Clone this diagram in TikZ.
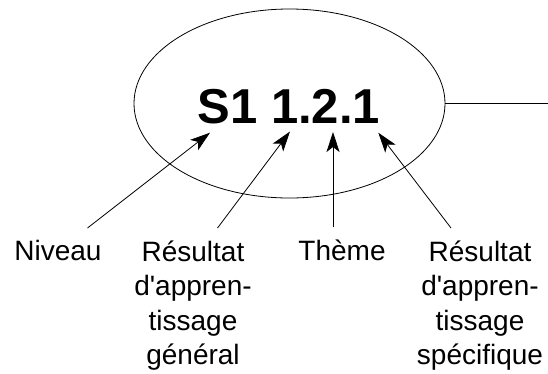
\documentclass[tikz,border=0pt]{standalone}
\usepackage{fontspec}
\setmainfont{Liberation Sans}
\usetikzlibrary{shapes.geometric,arrows.meta}

\begin{document}
\begin{tikzpicture}[x=1pt,y=-1pt]
	\tikzstyle{every node}+=[inner sep=0pt]
	\tikzstyle{lbl}=[font=\fontsize{28}{34.5}\selectfont, align=center, anchor=base]
	\tikzstyle{arr}=[-{Stealth[length=20pt,width=13pt,inset=5pt]}, line width=0.8pt]
	\useasboundingbox (0,0) rectangle (548,373);
	\node [ellipse, draw, line width=0.8pt, minimum width=311pt, minimum height=189pt] (bulle) at (289.5,103.5) {};
	\node [font=\fontsize{49}{49}\selectfont\bfseries, anchor=base] (code) at (288.8,123.3) {S1 1.2.1};
	\coordinate (sortie) at (548,103.5);
	\draw [line width=0.8pt] (bulle.east) -- (sortie);
	% points vises dans le code
	\coordinate (pS) at (210,132.7);
	\coordinate (pR) at (290,131.5);
	\coordinate (pT) at (333,132);
	\coordinate (pP) at (378.3,132.7);
	% legendes (base = derniere ligne)
	\node [lbl] (niveau) at (58,260.5) {Niveau};
	\node [lbl] (general) at (193,364.5) {Résultat\\d\textquotesingle appren-\\tissage\\général};
	\node [lbl] (theme) at (342,260.5) {Thème};
	\node [lbl] (specifique) at (480,364.5) {Résultat\\d\textquotesingle appren-\\tissage\\spécifique};
	\draw [arr] ([xshift=29.5pt,yshift=32.5pt]niveau.base) -- (pS);
	\draw [arr] ([xshift=24.5pt,yshift=136.5pt]general.base) -- (pR);
	\draw [arr] ([xshift=-9pt,yshift=33.5pt]theme.base) -- (pT);
	\draw [arr] ([xshift=-29pt,yshift=136.5pt]specifique.base) -- (pP);
\end{tikzpicture}
\end{document}
